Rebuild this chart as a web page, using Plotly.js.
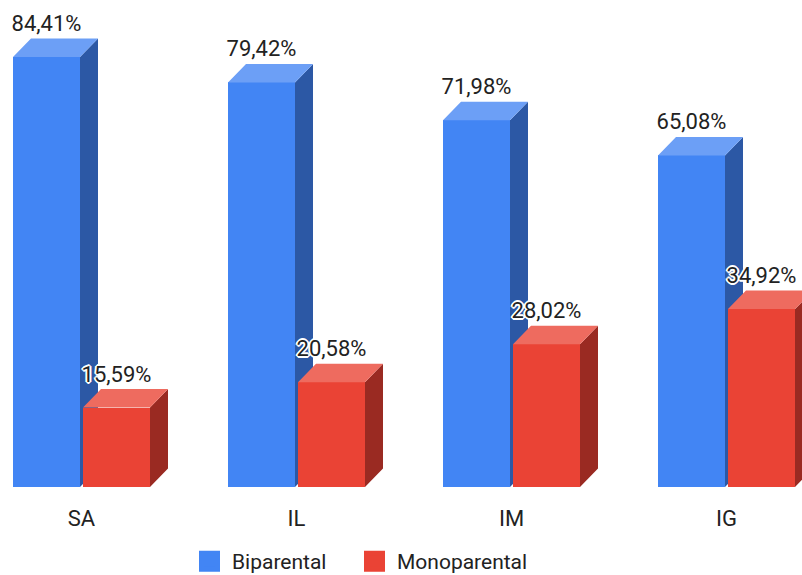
<!DOCTYPE html>
<html>
<head>
<meta charset="utf-8">
<script src="https://cdn.plot.ly/plotly-3.0.1.min.js"></script>
<style>html,body{margin:0;padding:0;background:#fff;}#chart{width:802px;height:575px;}</style>
</head>
<body>
<div id="chart"></div>
<script>
// ---- data ----
const categories = ['SA', 'IL', 'IM', 'IG'];
const seriesNames = ['Biparental', 'Monoparental'];
const biparental = [84.41, 79.42, 71.98, 65.08];
const monoparental = [15.59, 20.58, 28.02, 34.92];

// ---- style / geometry (in axis units) ----
const GROUP_PX = 215;
const Y_MAX = 95.6;
const PLOT_H = 487;
const pxX = p => p / GROUP_PX;
const pxY = p => p * Y_MAX / PLOT_H;
const barW = pxX(67);
const offsets = [pxX(-68.5), pxX(1.5)];
const dX = pxX(18);
const dY = pxY(18.5);
const labelGap = pxY(2);
const colors = {
  front: ['#4285F4', '#EA4335'],
  top: ['#6c9ff6', '#ee6b5f'],
  side: ['#2c58a5', '#9a2a22']
};
const FONT = 'Roboto, Arial, sans-serif';
const fmt = v => v.toFixed(2).replace('.', ',') + '%';

const xs = categories.map((c, i) => i);
const seriesVals = [biparental, monoparental];
const traces = [];

seriesVals.forEach((vals, s) => {
  const xa = s === 0 ? 'x' : 'x2';
  const ya = s === 0 ? 'y' : 'y2';
  // front faces
  traces.push({
    type: 'bar', x: xs, y: vals, width: barW, offset: offsets[s],
    marker: {color: colors.front[s], line: {width: 0}},
    xaxis: xa, yaxis: ya, showlegend: false, hoverinfo: 'skip', name: seriesNames[s]
  });
  // top & side faces
  const topX = [], topY = [], sideX = [], sideY = [];
  vals.forEach((v, i) => {
    const x0 = i + offsets[s], x1 = x0 + barW;
    topX.push(x0, x1, x1 + dX, x0 + dX, x0, null);
    topY.push(v, v, v + dY, v + dY, v, null);
    sideX.push(x1, x1, x1 + dX, x1 + dX, x1, null);
    sideY.push(0, v, v + dY, dY, 0, null);
  });
  traces.push({
    type: 'scatter', mode: 'lines', x: sideX, y: sideY, fill: 'toself',
    fillcolor: colors.side[s], line: {width: 0, color: colors.side[s]},
    xaxis: xa, yaxis: ya, showlegend: false, hoverinfo: 'skip'
  });
  traces.push({
    type: 'scatter', mode: 'lines', x: topX, y: topY, fill: 'toself',
    fillcolor: colors.top[s], line: {width: 0, color: colors.top[s]},
    xaxis: xa, yaxis: ya, showlegend: false, hoverinfo: 'skip'
  });
});

// value labels (drawn on top)
const halo = '-1px -1px 0 #fff, 1px -1px 0 #fff, -1px 1px 0 #fff, 1px 1px 0 #fff, 0 -2px 0 #fff, 0 2px 0 #fff, -2px 0 0 #fff, 2px 0 0 #fff';
seriesVals.forEach((vals, s) => {
  traces.push({
    type: 'scatter', mode: 'text',
    x: xs.map(i => i + offsets[s] + barW / 2),
    y: vals.map(v => v + dY + labelGap),
    text: vals.map(fmt), textposition: 'top center',
    textfont: {family: FONT, size: 22, color: '#222', shadow: halo},
    xaxis: 'x2', yaxis: 'y2', showlegend: false, hoverinfo: 'skip'
  });
});

// legend entries (one legend per series so each can be placed)
const legendIds = ['legend', 'legend2'];
seriesNames.forEach((n, s) => {
  traces.push({
    type: 'scatter', mode: 'markers', x: [null], y: [null], name: n,
    legend: legendIds[s],
    marker: {symbol: 'square', size: 16, color: colors.front[s], line: {width: 5, color: colors.front[s]}},
    showlegend: true, hoverinfo: 'skip'
  });
});

const legendBase = {
  orientation: 'h', xanchor: 'left',
  yref: 'paper', y: -(582 - PLOT_H) / PLOT_H, yanchor: 'bottom',
  itemwidth: 35, bgcolor: 'rgba(0,0,0,0)',
  font: {family: FONT, size: 21, color: '#222'},
  itemclick: false
};
const xRange = [pxX(-81.5), pxX(802 - 81.5)];
const layout = {
  width: 802, height: 575,
  margin: {l: 0, r: 0, t: 0, b: 575 - PLOT_H, pad: 0, autoexpand: false},
  paper_bgcolor: '#fff', plot_bgcolor: '#fff',
  font: {family: FONT, size: 21, color: '#222'},
  showlegend: true,
  legend: Object.assign({}, legendBase, {x: 187 / 802}),
  legend2: Object.assign({}, legendBase, {x: 352 / 802}),
  xaxis: {
    range: xRange, tickmode: 'array', tickvals: xs, ticktext: categories,
    showgrid: false, zeroline: false, showline: false, ticks: '',
    ticklabelstandoff: 16, automargin: false,
    tickfont: {family: FONT, size: 22, color: '#222'}, fixedrange: true
  },
  yaxis: {range: [0, Y_MAX], visible: false, showgrid: false, zeroline: false, fixedrange: true, automargin: false},
  xaxis2: {overlaying: 'x', matches: 'x', visible: false},
  yaxis2: {overlaying: 'y', matches: 'y', visible: false},
  bargap: 0
};
Plotly.newPlot('chart', traces, layout, {displayModeBar: false, staticPlot: true});
</script>
</body>
</html>
